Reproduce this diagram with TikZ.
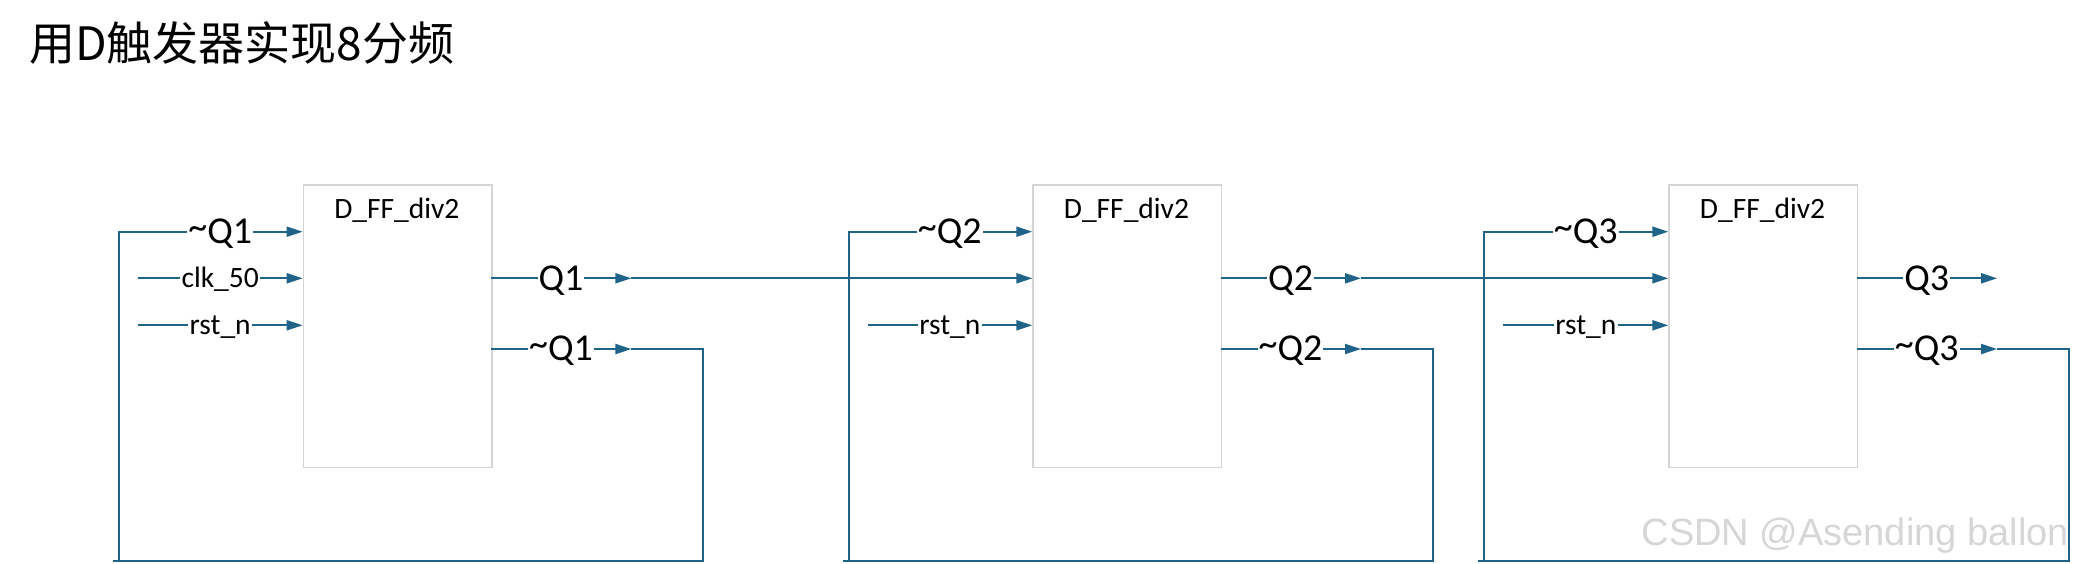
\documentclass[tikz,border=0pt]{standalone}
\usepackage{fontspec}
\setmainfont{Carlito}
\newfontfamily\cjkfont{Noto Sans CJK SC}
\newfontfamily\wmfont{Liberation Sans}
\usetikzlibrary{arrows.meta}
\definecolor{wirecol}{RGB}{31,99,136}
\definecolor{boxcol}{RGB}{212,212,212}
\definecolor{wmcol}{RGB}{214,214,214}
\newcommand{\ntil}{\raisebox{4.5pt}{\textasciitilde}}
\begin{document}
\begin{tikzpicture}[x=1pt,y=-1pt,
  wire/.style={draw=wirecol,line width=2pt},
  arr/.style={wire,-{Triangle[length=16pt,width=10pt]}},
  ffbox/.style={draw=boxcol,line width=1.5pt,fill=white,minimum width=188.3pt,minimum height=282.4pt,inner sep=0pt,anchor=north west},
  biglbl/.style={fill=white,inner sep=1pt,anchor=base,font=\fontsize{38}{40}\selectfont},
  smalllbl/.style={fill=white,inner sep=1.5pt,anchor=base,font=\fontsize{29.5}{32}\selectfont},
  fftitle/.style={inner sep=0pt,anchor=base,font=\fontsize{29.5}{32}\selectfont},
]
\useasboundingbox (0,0) rectangle (2073,563);

% title
\node[anchor=west,inner sep=0pt,font=\cjkfont\fontsize{46}{50}\selectfont] (title) at (29,43) {用D触发器实现8分频};

% flip-flop boxes
\node[ffbox] (b1) at (302.7,184.3) {};
\node[ffbox] (b2) at (1032.3,184.3) {};
\node[ffbox] (b3) at (1668.3,184.3) {};
\node[fftitle] (h1) at (396.85,218.3) {D\_FF\_div2};
\node[fftitle] (h2) at (1126.45,218.3) {D\_FF\_div2};
\node[fftitle] (h3) at (1762.5,218.3) {D\_FF\_div2};

% ports
\coordinate (b1i1) at (302.7,231.7);  \coordinate (b1i2) at (302.7,278.3);  \coordinate (b1i3) at (302.7,325.3);
\coordinate (b1o1) at (491,278.3);    \coordinate (b1o2) at (491,349);
\coordinate (b2i1) at (1032.3,231.7); \coordinate (b2i2) at (1032.3,278.3); \coordinate (b2i3) at (1032.3,325.3);
\coordinate (b2o1) at (1220.6,278.3); \coordinate (b2o2) at (1220.6,349);
\coordinate (b3i1) at (1668.3,231.7); \coordinate (b3i2) at (1668.3,278.3); \coordinate (b3i3) at (1668.3,325.3);
\coordinate (b3o1) at (1856.7,278.3); \coordinate (b3o2) at (1856.7,349);

% free ends and corners
\coordinate (clk) at (137.7,278.3);
\coordinate (rst1) at (137.7,325.3);
\coordinate (rst2) at (867.5,325.3);
\coordinate (rst3) at (1503.3,325.3);
\coordinate (t1q) at (631.4,278.3);  \coordinate (t1n) at (631.4,349);
\coordinate (t2q) at (1361,278.3);   \coordinate (t2n) at (1361,349);
\coordinate (t3q) at (1997.1,278.3); \coordinate (t3n) at (1997.1,349);
\coordinate (r1b) at (702.7,561);  \coordinate (f1e) at (113,561);  \coordinate (v1b) at (119,561);
\coordinate (r2b) at (1432.7,561); \coordinate (f2e) at (843,561);  \coordinate (v2b) at (849,561);
\coordinate (r3b) at (2068.7,561); \coordinate (f3e) at (1478.3,561); \coordinate (v3b) at (1484.3,561);

% stage 1
\draw[arr] (v1b) |- (b1i1);
\draw[arr] (clk) -- (b1i2);
\draw[arr] (rst1) -- (b1i3);
\draw[arr] (b1o1) -- (t1q);
\draw[arr] (t1q) -- (b2i2);
\draw[arr] (b1o2) -- (t1n);
\draw[wire] (t1n) -| (r1b) -- (f1e);

% stage 2
\draw[arr] (v2b) |- (b2i1);
\draw[arr] (rst2) -- (b2i3);
\draw[arr] (b2o1) -- (t2q);
\draw[arr] (t2q) -- (b3i2);
\draw[arr] (b2o2) -- (t2n);
\draw[wire] (t2n) -| (r2b) -- (f2e);

% stage 3
\draw[arr] (v3b) |- (b3i1);
\draw[arr] (rst3) -- (b3i3);
\draw[arr] (b3o1) -- (t3q);
\draw[arr] (b3o2) -- (t3n);
\draw[wire] (t3n) -| (r3b) -- (f3e);

% labels
\node[biglbl] (l1a) at (220.2,243.5) {\ntil Q1};
\node[smalllbl] (l1b) at (220.2,287.8) {clk\_50};
\node[smalllbl] (l1c) at (220.2,334.8) {rst\_n};
\node[biglbl] (l1d) at (561,290.1) {Q1};
\node[biglbl] (l1e) at (561,360.8) {\ntil Q1};

\node[biglbl] (l2a) at (949.8,243.5) {\ntil Q2};
\node[smalllbl] (l2c) at (949.8,334.8) {rst\_n};
\node[biglbl] (l2d) at (1290.6,290.1) {Q2};
\node[biglbl] (l2e) at (1290.6,360.8) {\ntil Q2};

\node[biglbl] (l3a) at (1585.8,243.5) {\ntil Q3};
\node[smalllbl] (l3c) at (1585.8,334.8) {rst\_n};
\node[biglbl] (l3d) at (1926.7,290.1) {Q3};
\node[biglbl] (l3e) at (1926.7,360.8) {\ntil Q3};

% watermark
\node[anchor=base east,inner sep=0pt,text=wmcol,font=\wmfont\fontsize{38}{40}\selectfont] (wm) at (2069,545) {CSDN @Asending ballon};
\end{tikzpicture}
\end{document}
